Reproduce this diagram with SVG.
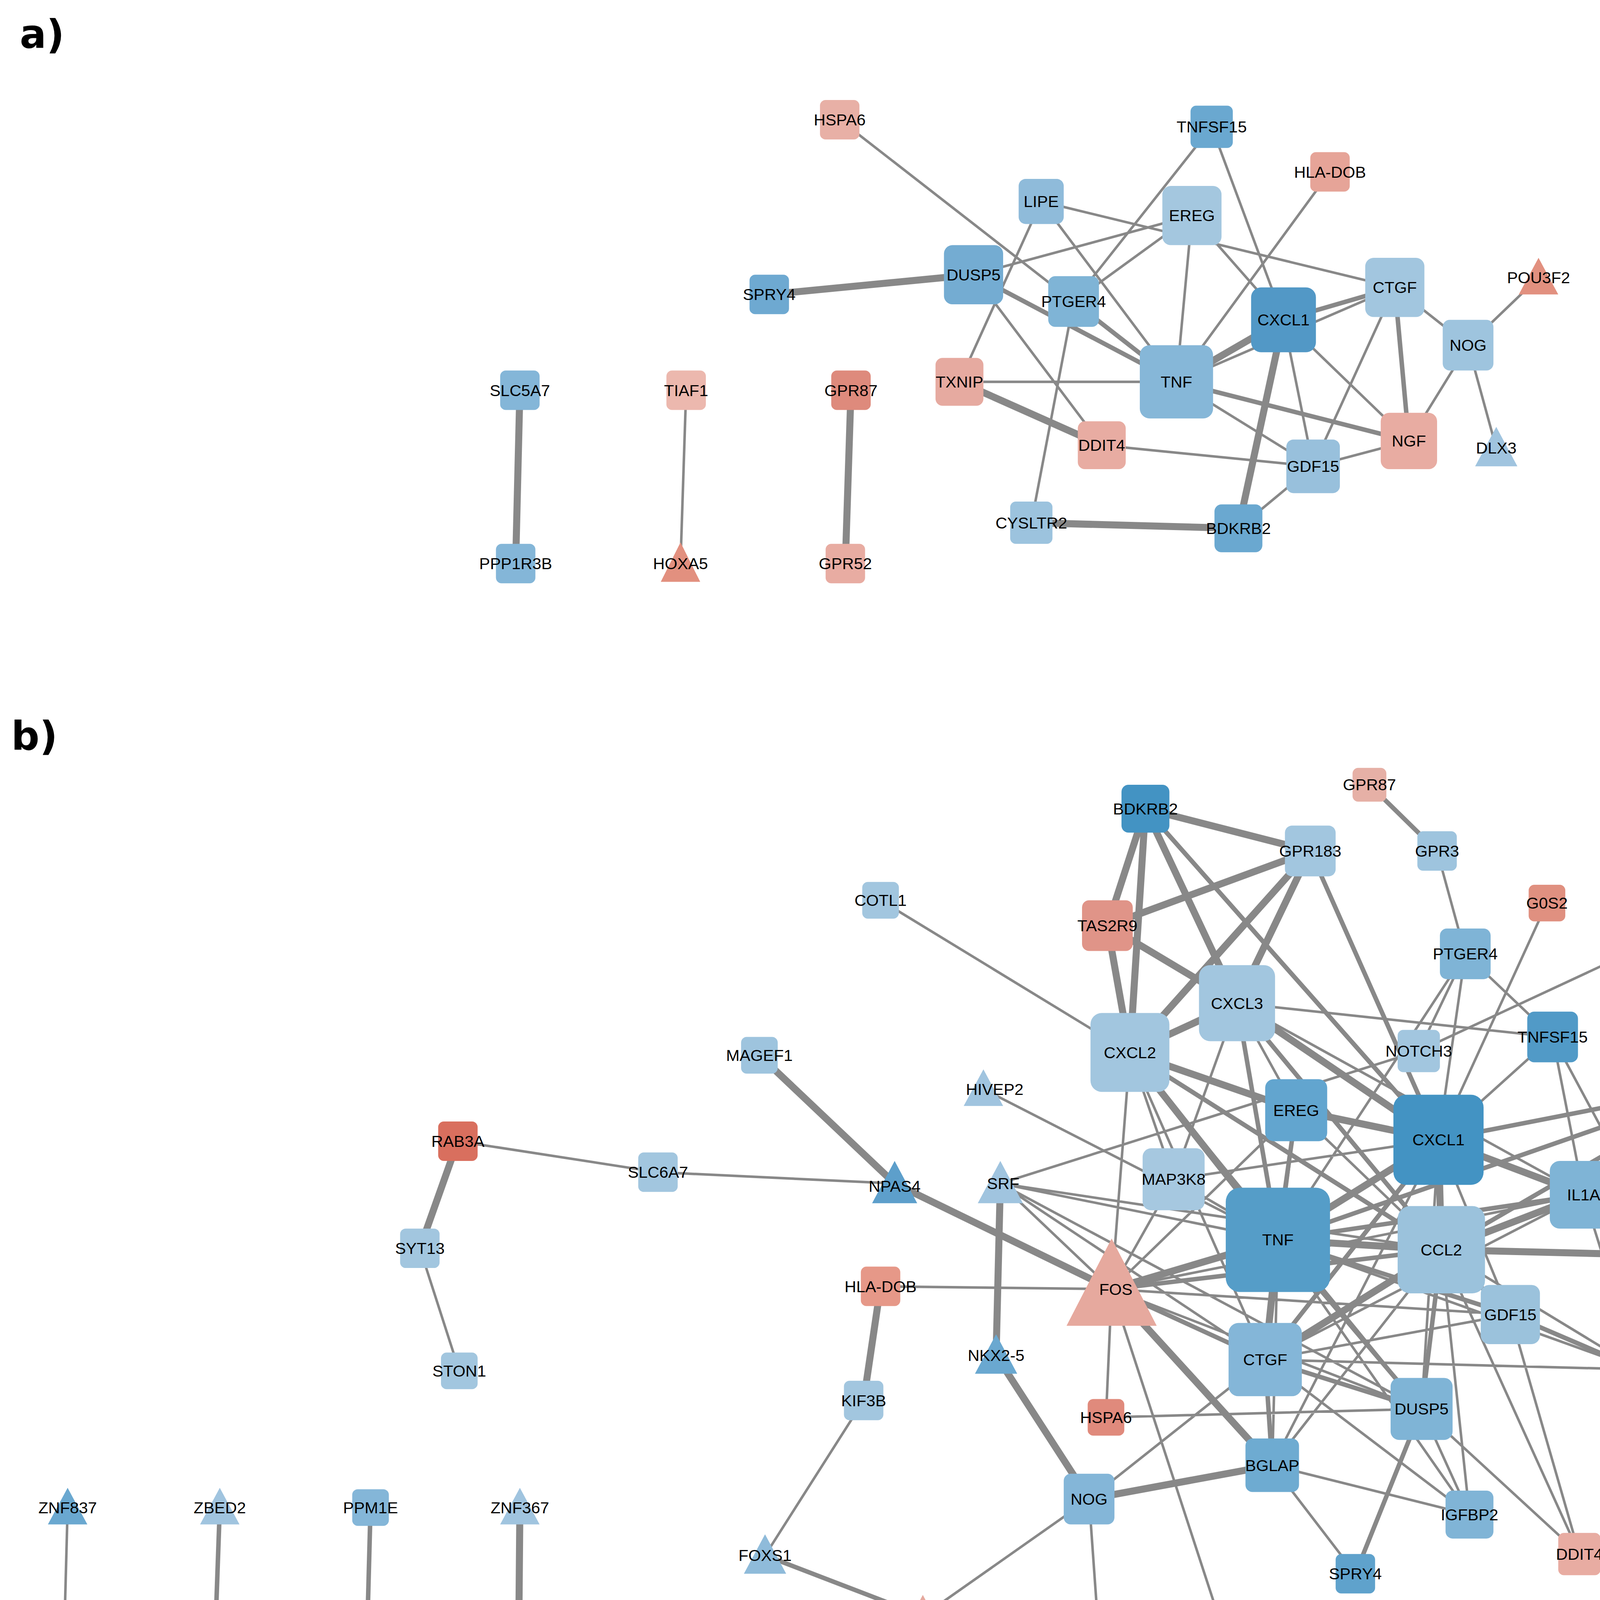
<svg xmlns="http://www.w3.org/2000/svg" width="4696" height="5625" viewBox="0 0 4696 5625">
<style>
text{font-family:"Liberation Sans",Arial,sans-serif;fill:#000}
.l{font-size:11.5px;text-anchor:middle;dominant-baseline:central}
.e{fill:none;stroke:#888;stroke-linecap:round}
.t1{stroke-width:1.8}.t2{stroke-width:3.2}.t3{stroke-width:5}
.pl{font-size:28px;font-weight:bold;font-family:"DejaVu Sans",sans-serif}
.lg{font-size:20px;font-family:"DejaVu Sans",sans-serif}
.sq{fill:#c0c0c0;stroke:#000;stroke-width:1.3}
</style>
<defs>
<linearGradient id="gr" x1="0" y1="0" x2="1" y2="0">
<stop offset="0" stop-color="#4393c3"/><stop offset="0.25" stop-color="#92c0dd"/><stop offset="0.5" stop-color="#f7f7f7"/><stop offset="0.75" stop-color="#e8aca2"/><stop offset="1" stop-color="#d6604d"/>
</linearGradient>
</defs>
<rect width="4696" height="5625" fill="#fff"/>
<g transform="scale(3.6068)">
<text class="pl" x="14" y="34">a)</text>
<text class="pl" x="8" y="532">b)</text>
<g id="connectors">
<path class="e t1" d="M596 85L835 271M860 90L762 214M860 90L911 227M944 122L835 271M739 143L990 204M739 143L835 271M739 143L681 271M691 195L846 153M691 195L782 316M846 153L835 271M846 153L911 227M846 153L762 214M762 214L732 371M911 227L1000 313M911 227L932 331M990 204L1042 245M990 204L932 331M990 204L835 271M1042 245L1000 313M1042 245L1062 318M1042 245L1092 197M835 271L681 271M835 271L932 331M782 316L932 331M932 331L1000 313M879 375L932 331M487 277L483 400"/>
<path class="e t2" d="M691 195L835 271M762 214L835 271M835 271L1000 313M990 204L1000 313M911 227L990 204"/>
<path class="e t3" d="M546 209L691 195M911 227L835 271M911 227L879 375M681 271L782 316M732 371L879 375M369 277L366 400M604 277L600 400"/>
<path class="e t1" d="M625 639L802 747M1098 641L1021 809M1020 604L1040 677M1040 677L1007 746M1040 677L1021 809M1040 677L1102 736M1040 677L907 880M1153 678L1007 746M1007 746L710 840M878 712L1102 736M878 712L920 788M878 712L833 837M878 712L1124 848M802 747L789 915M802 747L833 837M802 747L898 965M802 747L1009 1000M698 773L907 880M920 788L1023 887M920 788L898 965M920 788L789 915M1102 736L1021 809M1102 736L1124 848M1102 736L1185 891M1226 769L1280 836M1021 809L1072 933M1021 809L1009 1000M1021 809L833 837M1021 809L903 1040M1124 848L1163 972M1124 848L898 965M1124 848L789 915M907 880L833 837M907 880L903 1040M907 880L1043 1075M907 880L1163 972M1023 887L903 1040M1023 887L1043 1075M1023 887L1163 972M1023 887L1121 1103M1023 887L710 840M789 915L710 840M789 915L833 837M789 915L1072 933M789 915L1009 1000M789 915L785 1006M789 915L868 1157M789 915L625 913M1072 933L898 965M1072 933L1121 1103M898 965L1163 972M898 965L773 1064M898 965L1043 1075M785 1006L1009 1000M1009 1000L1043 1075M1009 1000L1121 1103M903 1040L1043 1075M903 1040L962 1117M773 1064L655 1147M773 1064L782 1191M543 1104L613 994M635 840L467 832M467 832L325 810M298 886L326 973M1203 1068L1121 1103M710 840L898 965M710 840L1009 1000M710 840L907 880M48 1070L45 1182"/>
<path class="e t2" d="M813 574L1021 809M930 604L1021 809M878 712L1023 887M878 712L907 880M802 747L1023 887M1021 809L1226 769M1226 769L1124 848M1226 769L1023 887M1124 848L907 880M1021 809L898 965M789 915L898 965M789 915L1023 887M898 965L1009 1000M1023 887L1009 1000M907 880L1009 1000M1023 887L1072 933M1072 933L1163 972M898 965L903 1040M1009 1000L962 1117M972 557L1020 604M920 788L907 880M1226 769L907 880M907 880L1072 933M782 1191L868 1157M543 1104L655 1147M156 1070L152 1182M263 1070L260 1182"/>
<path class="e t3" d="M813 574L930 604M813 574L786 657M813 574L802 747M813 574L878 712M930 604L786 657M930 604L878 712M930 604L802 747M786 657L802 747M786 657L878 712M878 712L802 747M878 712L1021 809M802 747L920 788M802 747L907 880M920 788L1021 809M1021 809L907 880M1021 809L1023 887M1021 809L1124 848M907 880L1023 887M907 880L789 915M907 880L898 965M1023 887L1124 848M1023 887L1185 891M1023 887L898 965M789 915L635 840M789 915L903 1040M539 749L635 840M707 962L710 840M707 962L773 1064M613 994L625 913M773 1064L903 1040M1233 987L1203 1068M325 810L298 886M369 1070L368 1182"/>
</g>
<g id="nodes-a">
<g id="a-HSPA6"><rect x="582" y="71" width="28" height="28" rx="4" fill="#e8b0a6"/><text class="l" x="596" y="85">HSPA6</text></g>
<g id="a-TNFSF15"><rect x="845" y="75" width="30" height="30" rx="4" fill="#6aa8d0"/><text class="l" x="860" y="90">TNFSF15</text></g>
<g id="a-HLA-DOB"><rect x="930" y="108" width="28" height="28" rx="4" fill="#e6a498"/><text class="l" x="944" y="122">HLA-DOB</text></g>
<g id="a-LIPE"><rect x="723" y="127" width="32" height="32" rx="5" fill="#8fbbda"/><text class="l" x="739" y="143">LIPE</text></g>
<g id="a-EREG"><rect x="825" y="132" width="42" height="42" rx="6" fill="#a4c7df"/><text class="l" x="846" y="153">EREG</text></g>
<g id="a-DUSP5"><rect x="670" y="174" width="42" height="42" rx="6" fill="#74acd2"/><text class="l" x="691" y="195">DUSP5</text></g>
<g id="a-SPRY4"><rect x="532" y="195" width="28" height="28" rx="4" fill="#6ea9d1"/><text class="l" x="546" y="209">SPRY4</text></g>
<g id="a-CTGF"><rect x="969" y="183" width="42" height="42" rx="6" fill="#a2c6df"/><text class="l" x="990" y="204">CTGF</text></g>
<g id="a-POU3F2"><polygon points="1092,183 1078,209 1106,209" fill="#e2907f"/><text class="l" x="1092" y="197">POU3F2</text></g>
<g id="a-PTGER4"><rect x="744" y="196" width="36" height="36" rx="5" fill="#7fb4d6"/><text class="l" x="762" y="214">PTGER4</text></g>
<g id="a-CXCL1"><rect x="888" y="204" width="46" height="46" rx="7" fill="#5298c6"/><text class="l" x="911" y="227">CXCL1</text></g>
<g id="a-NOG"><rect x="1024" y="227" width="36" height="36" rx="5" fill="#9ec4de"/><text class="l" x="1042" y="245">NOG</text></g>
<g id="a-TNF"><rect x="809" y="245" width="52" height="52" rx="7" fill="#86b7d8"/><text class="l" x="835" y="271">TNF</text></g>
<g id="a-TXNIP"><rect x="664" y="254" width="34" height="34" rx="5" fill="#e6aaa0"/><text class="l" x="681" y="271">TXNIP</text></g>
<g id="a-NGF"><rect x="980" y="293" width="40" height="40" rx="6" fill="#e8aca2"/><text class="l" x="1000" y="313">NGF</text></g>
<g id="a-DDIT4"><rect x="765" y="299" width="34" height="34" rx="5" fill="#e8aca2"/><text class="l" x="782" y="316">DDIT4</text></g>
<g id="a-GDF15"><rect x="913" y="312" width="38" height="38" rx="5" fill="#98c0dc"/><text class="l" x="932" y="331">GDF15</text></g>
<g id="a-DLX3"><polygon points="1062,303 1047,331 1077,331" fill="#a0c4df"/><text class="l" x="1062" y="318">DLX3</text></g>
<g id="a-CYSLTR2"><rect x="717" y="356" width="30" height="30" rx="4" fill="#9cc3de"/><text class="l" x="732" y="371">CYSLTR2</text></g>
<g id="a-BDKRB2"><rect x="862" y="358" width="34" height="34" rx="5" fill="#6aa8d0"/><text class="l" x="879" y="375">BDKRB2</text></g>
<g id="a-SLC5A7"><rect x="355" y="263" width="28" height="28" rx="4" fill="#84b6d8"/><text class="l" x="369" y="277">SLC5A7</text></g>
<g id="a-PPP1R3B"><rect x="352" y="386" width="28" height="28" rx="4" fill="#84b6d8"/><text class="l" x="366" y="400">PPP1R3B</text></g>
<g id="a-TIAF1"><rect x="473" y="263" width="28" height="28" rx="4" fill="#ecb8ae"/><text class="l" x="487" y="277">TIAF1</text></g>
<g id="a-HOXA5"><polygon points="483,385 469,413 497,413" fill="#e2907f"/><text class="l" x="483" y="400">HOXA5</text></g>
<g id="a-GPR87"><rect x="590" y="263" width="28" height="28" rx="4" fill="#de8a7c"/><text class="l" x="604" y="277">GPR87</text></g>
<g id="a-GPR52"><rect x="586" y="386" width="28" height="28" rx="4" fill="#e8aca2"/><text class="l" x="600" y="400">GPR52</text></g>
</g>
<g id="nodes-b">
<g id="b-BDKRB2"><rect x="796" y="557" width="34" height="34" rx="5" fill="#4393c3"/><text class="l" x="813" y="574">BDKRB2</text></g>
<g id="b-GPR87"><rect x="960" y="545" width="24" height="24" rx="4" fill="#e6b0a6"/><text class="l" x="972" y="557">GPR87</text></g>
<g id="b-GPR183"><rect x="912" y="586" width="36" height="36" rx="5" fill="#a2c6df"/><text class="l" x="930" y="604">GPR183</text></g>
<g id="b-GPR3"><rect x="1006" y="590" width="28" height="28" rx="4" fill="#9ec4de"/><text class="l" x="1020" y="604">GPR3</text></g>
<g id="b-COTL1"><rect x="612" y="626" width="26" height="26" rx="4" fill="#a2c6df"/><text class="l" x="625" y="639">COTL1</text></g>
<g id="b-TAS2R9"><rect x="768" y="639" width="36" height="36" rx="5" fill="#e09488"/><text class="l" x="786" y="657">TAS2R9</text></g>
<g id="b-G0S2"><rect x="1085" y="628" width="26" height="26" rx="4" fill="#e09080"/><text class="l" x="1098" y="641">G0S2</text></g>
<g id="b-PTGER4"><rect x="1022" y="659" width="36" height="36" rx="5" fill="#7fb4d6"/><text class="l" x="1040" y="677">PTGER4</text></g>
<g id="b-FZD7"><rect x="1140" y="665" width="26" height="26" rx="4" fill="#a2c6df"/><text class="l" x="1153" y="678">FZD7</text></g>
<g id="b-CXCL3"><rect x="851" y="685" width="54" height="54" rx="8" fill="#a2c6df"/><text class="l" x="878" y="712">CXCL3</text></g>
<g id="b-CXCL2"><rect x="774" y="719" width="56" height="56" rx="8" fill="#a2c6df"/><text class="l" x="802" y="747">CXCL2</text></g>
<g id="b-NOTCH3"><rect x="992" y="731" width="30" height="30" rx="4" fill="#a2c6df"/><text class="l" x="1007" y="746">NOTCH3</text></g>
<g id="b-TNFSF15"><rect x="1084" y="718" width="36" height="36" rx="5" fill="#519ac7"/><text class="l" x="1102" y="736">TNFSF15</text></g>
<g id="b-MAGEF1"><rect x="526" y="736" width="26" height="26" rx="4" fill="#9ec4de"/><text class="l" x="539" y="749">MAGEF1</text></g>
<g id="b-HIVEP2"><polygon points="698,759 684,785 712,785" fill="#a0c4df"/><text class="l" x="706" y="773">HIVEP2</text></g>
<g id="b-EREG"><rect x="898" y="766" width="44" height="44" rx="6" fill="#62a5cf"/><text class="l" x="920" y="788">EREG</text></g>
<g id="b-CXCL1"><rect x="989" y="777" width="64" height="64" rx="9" fill="#4393c3"/><text class="l" x="1021" y="809">CXCL1</text></g>
<g id="b-OLR1"><rect x="1210" y="753" width="32" height="32" rx="5" fill="#e6aaa0"/><text class="l" x="1226" y="769">OLR1</text></g>
<g id="b-RAB3A"><rect x="311" y="796" width="28" height="28" rx="4" fill="#d96f5e"/><text class="l" x="325" y="810">RAB3A</text></g>
<g id="b-SLC6A7"><rect x="453" y="818" width="28" height="28" rx="4" fill="#a2c6df"/><text class="l" x="467" y="832">SLC6A7</text></g>
<g id="b-NPAS4"><polygon points="635,824 619,854 651,854" fill="#5d9fcb"/><text class="l" x="635" y="842">NPAS4</text></g>
<g id="b-SRF"><polygon points="710,824 694,854 726,854" fill="#a0c4df"/><text class="l" x="712" y="840">SRF</text></g>
<g id="b-MAP3K8"><rect x="811" y="815" width="44" height="44" rx="6" fill="#a6c8e0"/><text class="l" x="833" y="837">MAP3K8</text></g>
<g id="b-IL1A"><rect x="1100" y="824" width="48" height="48" rx="7" fill="#7fb4d6"/><text class="l" x="1124" y="848">IL1A</text></g>
<g id="b-KLRC4"><rect x="1267" y="823" width="26" height="26" rx="4" fill="#5d9fcb"/><text class="l" x="1280" y="836">KLRC4</text></g>
<g id="b-TNF"><rect x="870" y="843" width="74" height="74" rx="10" fill="#559dc8"/><text class="l" x="907" y="880">TNF</text></g>
<g id="b-CCL2"><rect x="992" y="856" width="62" height="62" rx="9" fill="#9bc2dc"/><text class="l" x="1023" y="887">CCL2</text></g>
<g id="b-SYT13"><rect x="284" y="872" width="28" height="28" rx="4" fill="#a2c6df"/><text class="l" x="298" y="886">SYT13</text></g>
<g id="b-TNFRSF9"><rect x="1170" y="876" width="30" height="30" rx="4" fill="#e8b0a6"/><text class="l" x="1185" y="891">TNFRSF9</text></g>
<g id="b-FOS"><polygon points="789,879 757,941 821,941" fill="#e6a99e"/><text class="l" x="792" y="915">FOS</text></g>
<g id="b-HLA-DOB"><rect x="611" y="899" width="28" height="28" rx="4" fill="#e69888"/><text class="l" x="625" y="913">HLA-DOB</text></g>
<g id="b-GDF15"><rect x="1051" y="912" width="42" height="42" rx="6" fill="#9bc2dc"/><text class="l" x="1072" y="933">GDF15</text></g>
<g id="b-NKX2-5"><polygon points="707,947 692,975 722,975" fill="#6aa8d0"/><text class="l" x="707" y="962">NKX2-5</text></g>
<g id="b-STON1"><rect x="313" y="960" width="26" height="26" rx="4" fill="#a2c6df"/><text class="l" x="326" y="973">STON1</text></g>
<g id="b-CTGF"><rect x="872" y="939" width="52" height="52" rx="7" fill="#84b6d8"/><text class="l" x="898" y="965">CTGF</text></g>
<g id="b-ADAMTS5"><rect x="1146" y="955" width="34" height="34" rx="5" fill="#72add3"/><text class="l" x="1163" y="972">ADAMTS5</text></g>
<g id="b-NOXA1"><rect x="1220" y="974" width="26" height="26" rx="4" fill="#5d9fcb"/><text class="l" x="1233" y="987">NOXA1</text></g>
<g id="b-KIF3B"><rect x="599" y="980" width="28" height="28" rx="4" fill="#a2c6df"/><text class="l" x="613" y="994">KIF3B</text></g>
<g id="b-HSPA6"><rect x="772" y="993" width="26" height="26" rx="4" fill="#e08a7c"/><text class="l" x="785" y="1006">HSPA6</text></g>
<g id="b-DUSP5"><rect x="987" y="978" width="44" height="44" rx="6" fill="#7fb4d6"/><text class="l" x="1009" y="1000">DUSP5</text></g>
<g id="b-BGLAP"><rect x="884" y="1021" width="38" height="38" rx="5" fill="#6eabd1"/><text class="l" x="903" y="1040">BGLAP</text></g>
<g id="b-NOG"><rect x="755" y="1046" width="36" height="36" rx="5" fill="#84b6d8"/><text class="l" x="773" y="1064">NOG</text></g>
<g id="b-RPL3L"><rect x="1189" y="1054" width="28" height="28" rx="4" fill="#e08a7c"/><text class="l" x="1203" y="1068">RPL3L</text></g>
<g id="b-IGFBP2"><rect x="1026" y="1058" width="34" height="34" rx="5" fill="#80b4d6"/><text class="l" x="1043" y="1075">IGFBP2</text></g>
<g id="b-FOXS1"><polygon points="543,1089 528,1117 558,1117" fill="#8fbbda"/><text class="l" x="543" y="1104">FOXS1</text></g>
<g id="b-DDIT4"><rect x="1106" y="1088" width="30" height="30" rx="4" fill="#e8aca2"/><text class="l" x="1121" y="1103">DDIT4</text></g>
<g id="b-SPRY4"><rect x="948" y="1103" width="28" height="28" rx="4" fill="#5fa2cc"/><text class="l" x="962" y="1117">SPRY4</text></g>
<g id="b-DRGX"><polygon points="655,1132 640,1160 670,1160" fill="#e6a99e"/><text class="l" x="655" y="1147">DRGX</text></g>
<g id="b-CCRN4L"><rect x="854" y="1143" width="28" height="28" rx="4" fill="#9ec4de"/><text class="l" x="868" y="1157">CCRN4L</text></g>
<g id="b-POU3F2"><polygon points="782,1176 767,1204 797,1204" fill="#d96f5e"/><text class="l" x="782" y="1191">POU3F2</text></g>
<g id="b-ZNF837"><polygon points="48,1056 34,1082 62,1082" fill="#6aa8d0"/><text class="l" x="48" y="1070">ZNF837</text></g>
<g id="b-ZNF524"><polygon points="45,1168 31,1194 59,1194" fill="#84b6d8"/><text class="l" x="45" y="1182">ZNF524</text></g>
<g id="b-ZBED2"><polygon points="156,1056 142,1082 170,1082" fill="#a0c4df"/><text class="l" x="156" y="1070">ZBED2</text></g>
<g id="b-KRT34"><rect x="139" y="1169" width="26" height="26" rx="4" fill="#e8aca2"/><text class="l" x="152" y="1182">KRT34</text></g>
<g id="b-PPM1E"><rect x="250" y="1057" width="26" height="26" rx="4" fill="#84b6d8"/><text class="l" x="263" y="1070">PPM1E</text></g>
<g id="b-PDP2"><rect x="247" y="1169" width="26" height="26" rx="4" fill="#eab4aa"/><text class="l" x="260" y="1182">PDP2</text></g>
<g id="b-ZNF367"><polygon points="369,1056 355,1082 383,1082" fill="#a0c4df"/><text class="l" x="369" y="1070">ZNF367</text></g>
<g id="b-RNF122"><rect x="355" y="1169" width="26" height="26" rx="4" fill="#e08a7c"/><text class="l" x="368" y="1182">RNF122</text></g>
</g>
<g id="legend">
<rect x="201" y="1325" width="885" height="230" fill="#fff" stroke="#2a1410" stroke-width="2"/>
<text class="lg" x="627" y="1361" text-anchor="middle" font-weight="bold">Legend</text>
<text class="lg" x="362" y="1399" text-anchor="middle">Node Size: Degree</text>
<text class="lg" x="867" y="1393" text-anchor="middle">Node Fill Color: Log2FC</text>
<rect class="sq" x="237" y="1462" width="20" height="18"/><text class="lg" x="247" y="1478" text-anchor="middle" font-size="17">1</text>
<rect class="sq" x="270" y="1455" width="32" height="32"/><text class="lg" x="284" y="1478" text-anchor="middle" font-size="17">6</text>
<rect class="sq" x="315" y="1443" width="43" height="43"/><text class="lg" x="339" y="1476" text-anchor="middle" font-size="17">11</text>
<rect class="sq" x="371" y="1439" width="55" height="55" /><text class="lg" x="401" y="1476" text-anchor="middle" font-size="17">15</text>
<rect class="sq" x="437" y="1440" width="66" height="60"/><text class="lg" x="475" y="1476" text-anchor="middle" font-size="17">20</text>
<rect x="718" y="1414" width="329" height="67" fill="url(#gr)" stroke="#222" stroke-width="1"/>
<text class="lg" x="718" y="1521" text-anchor="middle">-2.2</text>
<text class="lg" x="801" y="1521" text-anchor="middle">-1.1</text>
<text class="lg" x="880" y="1521" text-anchor="middle">0.0</text>
<text class="lg" x="962" y="1521" text-anchor="middle">1.1</text>
<text class="lg" x="1041" y="1521" text-anchor="middle">2.2</text>
</g>
</g>
</svg>
